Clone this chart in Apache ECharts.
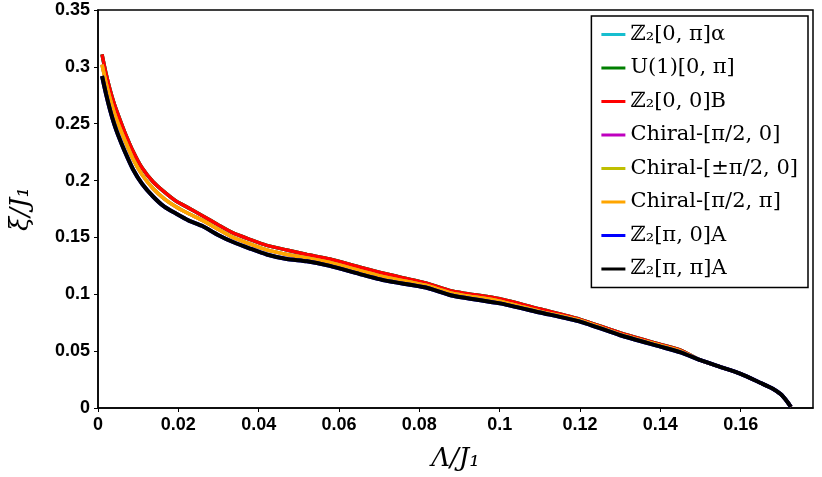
<!DOCTYPE html>
<html><head><meta charset="utf-8">
<script src="https://cdn.jsdelivr.net/npm/echarts@6/dist/echarts.min.js"></script>
<style>html,body{margin:0;padding:0;background:#fff}#c{width:822px;height:477px}</style>
</head><body><div id="c"></div>
<script>
const names = ['ℤ₂[0, π]α','U(1)[0, π]','ℤ₂[0, 0]B','Chiral-[π/2, 0]','Chiral-[±π/2, 0]','Chiral-[π/2, π]','ℤ₂[π, 0]A','ℤ₂[π, π]A'];
const colors = ['#17becf','#007f00','#ff0000','#bf00bf','#bfbf00','#ffa500','#0000ff','#000000'];
const xs =      [0.001,0.002,0.003,0.004,0.005,0.0065,0.0087,0.011,0.0137,0.0165,0.0194,0.0225,0.026,0.03,0.0336,0.038,0.042,0.047,0.052,0.0577,0.065,0.0716,0.0816,0.088,0.1,0.11,0.12,0.13,0.14,0.145,0.15,0.155,0.16,0.165,0.168,0.17,0.1715,0.1725];
const yTop =    [0.311,0.294,0.280,0.268,0.258,0.244,0.226,0.211,0.199,0.190,0.182,0.176,0.169,0.161,0.154,0.148,0.143,0.139,0.135,0.131,0.124,0.118,0.110,0.103,0.096,0.087,0.078,0.066,0.056,0.051,0.042,0.036,0.030,0.022,0.017,0.012,0.006,0.001];
const yMid =    [0.302,0.286,0.272,0.260,0.250,0.237,0.219,0.205,0.193,0.184,0.177,0.171,0.165,0.157,0.150,0.144,0.139,0.135,0.132,0.128,0.121,0.115,0.108,0.101,0.094,0.085,0.077,0.065,0.055,0.050,0.042,0.036,0.030,0.022,0.017,0.012,0.006,0.001];
const yBottom = [0.292,0.276,0.262,0.250,0.240,0.227,0.210,0.197,0.186,0.177,0.171,0.165,0.160,0.152,0.146,0.140,0.135,0.131,0.129,0.125,0.118,0.112,0.106,0.099,0.092,0.084,0.076,0.064,0.054,0.049,0.042,0.036,0.030,0.022,0.017,0.012,0.006,0.001];
const groups = [yTop,yTop,yTop,yMid,yMid,yMid,yBottom,yBottom];
const series = names.map((n,i)=>({
  name:n, type:'line', showSymbol:false, smooth:0.2,
  data: xs.map((x,j)=>[x, groups[i][j]]),
  lineStyle:{color:colors[i], width:i>=6?4:3.5}, itemStyle:{color:colors[i]}
}));
const chart = echarts.init(document.getElementById('c'));
chart.setOption({
  animation:false,
  grid:{left:93,right:9,top:10,bottom:67,show:true,borderColor:'#000',borderWidth:1.5},
  legend:{orient:'vertical',right:14,top:16,itemWidth:24,itemHeight:3,itemGap:12.5,
    icon:'rect',padding:[8,10,8,10],backgroundColor:'#fff',
    borderColor:'#000',borderWidth:1.5,
    textStyle:{fontFamily:'DejaVu Serif',fontSize:21,color:'#000'},
    data:names},
  xAxis:{type:'value',min:0,max:0.178,interval:0.02,
    name:'Λ/J₁',nameLocation:'middle',nameGap:38,
    nameTextStyle:{fontFamily:'DejaVu Serif',fontStyle:'italic',fontSize:26,color:'#000'},
    axisLine:{show:true,lineStyle:{color:'#000',width:1.5}},
    axisTick:{show:true,length:4,lineStyle:{color:'#000'}},
    splitLine:{show:false},
    axisLabel:{color:'#000',fontWeight:'bold',fontSize:18,fontFamily:'Liberation Sans',showMaxLabel:false,
      formatter:v=>v===0?'0':String(+v.toFixed(2))}},
  yAxis:{type:'value',min:0,max:0.35,interval:0.05,
    name:'ξ/J₁',nameLocation:'middle',nameGap:64,
    nameTextStyle:{fontFamily:'DejaVu Serif',fontStyle:'italic',fontSize:26,color:'#000'},
    axisLine:{show:true,lineStyle:{color:'#000',width:1.5}},
    axisTick:{show:true,length:4,lineStyle:{color:'#000'}},
    splitLine:{show:false},
    axisLabel:{color:'#000',fontWeight:'bold',fontSize:18,fontFamily:'Liberation Sans',
      formatter:v=>v===0?'0':String(+v.toFixed(2))}},
  series
});
</script></body></html>
